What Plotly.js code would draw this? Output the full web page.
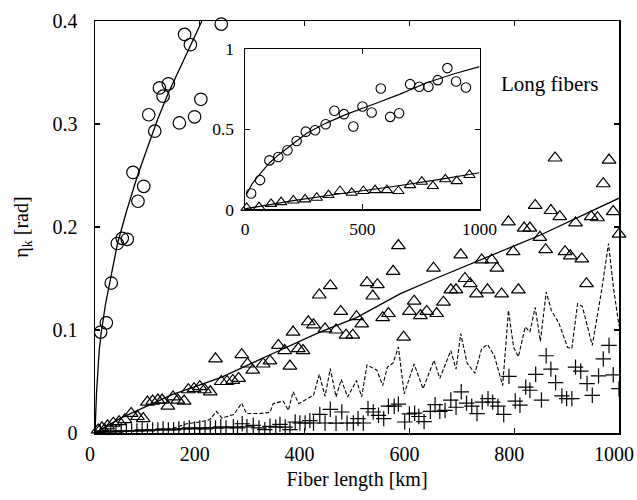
<!DOCTYPE html>
<html>
<head>
<meta charset="utf-8">
<script src="https://cdn.plot.ly/plotly-3.0.1.min.js"></script>
<style>html,body{margin:0;padding:0;background:#fff;}#chart{width:637px;height:500px;}</style>
</head>
<body>
<div id="chart"></div>
<script>
// ---- Main plot: short fibers (circles) ----
var shortLen = [10.8, 21.6, 31, 42.6, 52, 61.6, 72.5, 82, 93, 102.5, 114, 123, 130, 140, 161, 171, 182, 190, 202, 241];
var shortEta = [0.098, 0.107, 0.1456, 0.184, 0.189, 0.188, 0.253, 0.225, 0.2395, 0.309, 0.293, 0.335, 0.327, 0.339, 0.301, 0.387, 0.377, 0.307, 0.324, 0.397];
var shortFitLen = [0, 3, 8, 12, 20, 30, 43, 60, 80, 100, 120, 140, 160, 180, 204];
var shortFitEta = [0, 0.04, 0.08, 0.098, 0.125, 0.152, 0.184, 0.215, 0.248, 0.277, 0.305, 0.33, 0.352, 0.374, 0.4];

// ---- Main plot: triangles ----
var triLen = [6,13,24,35,46,57,69,81,92,100,110,120,128,139,149,158,170,178,189,200,209,220,230,241,252,263,274,280,291,301,321,334,350,362,372,378,388,397,407,417,428,439,449,460,469,479,492,499,509,519,530,539,549,560,569,579,589,600,609,621,633,646,652,665,679,689,698,706,716,728,738,749,757,767,776,789,798,808,819,830,840,849,860,870,878,887,897,907,917,929,938,947,959,970,981,989,1000];
var triEta = [0.003,0.005,0.007,0.0095,0.011,0.013,0.019,0.016,0.014,0.030,0.031,0.032,0.032,0.026,0.035,0.032,0.031,0.042,0.043,0.045,0.042,0.040,0.072,0.050,0.050,0.051,0.053,0.076,0.067,0.061,0.067,0.070,0.085,0.080,0.065,0.098,0.082,0.080,0.108,0.105,0.134,0.101,0.143,0.100,0.118,0.095,0.095,0.113,0.106,0.146,0.133,0.144,0.112,0.116,0.157,0.182,0.093,0.118,0.128,0.114,0.118,0.160,0.116,0.127,0.139,0.139,0.173,0.150,0.145,0.135,0.168,0.139,0.168,0.160,0.135,0.205,0.176,0.139,0.199,0.199,0.221,0.190,0.178,0.216,0.267,0.210,0.176,0.172,0.204,0.169,0.145,0.210,0.209,0.242,0.265,0.215,0.193];
var triFitLen = [0, 47, 146, 241, 330, 429, 499, 582, 650, 735, 849, 1000];
var triFitEta = [0, 0.014, 0.037, 0.054, 0.075, 0.098, 0.112, 0.135, 0.150, 0.168, 0.192, 0.228];

// ---- Main plot: dashed curve ----
var dashLen = [0,20,50,82,120,146,175,200,219,232,242,265,280,289,315,334,340,359,369,378,389,417,428,439,449,460,470,482,499,509,519,538,549,558,569,579,590,609,626,647,658,679,689,698,710,725,738,749,762,778,789,799,808,821,830,840,850,861,871,885,902,910,921,930,949,967,980,990,1000];
var dashEta = [0,0.001,0.001,0.0026,0.003,0.004,0.009,0.0107,0.013,0.021,0.0145,0.018,0.029,0.019,0.019,0.020,0.0285,0.031,0.022,0.040,0.0285,0.0366,0.057,0.0355,0.0625,0.035,0.052,0.035,0.051,0.035,0.066,0.061,0.046,0.064,0.068,0.0835,0.038,0.067,0.043,0.0706,0.053,0.080,0.062,0.0965,0.068,0.058,0.082,0.086,0.075,0.046,0.119,0.083,0.074,0.103,0.098,0.122,0.089,0.137,0.119,0.107,0.083,0.082,0.1256,0.123,0.085,0.139,0.184,0.139,0.104];

// ---- Main plot: plus markers ----
var plusLen = [10,20,30,40,50,60,70,80,90,100,110,120,130,140,150,160,170,180,190,200,210,220,230,240,250,264,272,281,290,302,313,324,334,345,353,363,372,382,391,401,410,417,429,439,449,460,471,481,493,502,512,521,531,541,551,560,571,579,591,600,610,618,628,640,649,658,668,679,689,699,709,719,729,739,750,759,769,780,790,802,811,822,830,841,852,861,870,879,891,900,910,917,927,939,949,961,970,981,989,1000];
var plusEta = [0.001,0.001,0.002,0.001,0.002,0.002,0.002,0.002,0.003,0.002,0.003,0.003,0.004,0.003,0.003,0.004,0.004,0.005,0.004,0.005,0.004,0.005,0.005,0.006,0.005,0.006,0.005,0.009,0.006,0.0075,0.005,0.0033,0.0065,0.0058,0.0084,0.0058,0.0033,0.0107,0.0097,0.0097,0.012,0.0097,0.018,0.0097,0.023,0.0095,0.0204,0.0097,0.0097,0.014,0.0097,0.0237,0.0204,0.0172,0.014,0.026,0.026,0.028,0.0107,0.0185,0.0192,0.016,0.011,0.021,0.0275,0.021,0.022,0.032,0.025,0.040,0.029,0.026,0.0188,0.030,0.0334,0.030,0.026,0.018,0.055,0.031,0.027,0.0445,0.0415,0.057,0.032,0.075,0.062,0.049,0.036,0.0334,0.0334,0.064,0.060,0.048,0.0366,0.0555,0.072,0.085,0.0565,0.043];

// ---- Inset: long fibers ----
var inCircLen = [26,64,104,142,181,220,259,299,344,381,422,462,501,540,579,619,657,704,743,782,822,863,900,942];
var inCircEta = [0.10,0.183,0.306,0.327,0.369,0.427,0.485,0.494,0.531,0.615,0.594,0.517,0.642,0.604,0.754,0.577,0.600,0.781,0.765,0.765,0.806,0.881,0.798,0.760];
var inCircFitLen = [5,15,30,64,104,142,181,263,348,434,548,661,775,889,1000];
var inCircFitEta = [0.09,0.12,0.16,0.222,0.29,0.34,0.385,0.475,0.54,0.594,0.656,0.719,0.79,0.844,0.89];
var inTriLen = [7,60,111,154,206,256,306,356,405,455,505,555,605,654,704,754,801,854,903,957];
var inTriEta = [0.010,0.015,0.035,0.046,0.056,0.063,0.073,0.090,0.115,0.104,0.115,0.121,0.121,0.115,0.152,0.173,0.146,0.188,0.177,0.215];
var inTriFitLen = [0,192,405,619,832,1000];
var inTriFitEta = [0.004,0.052,0.098,0.140,0.188,0.229];

// ---- Ticks / labels ----
var mainXTicks = [0,200,400,600,800,1000];
var mainYTicks = [0,0.1,0.2,0.3,0.4];
var mainYText = ['0','0.1','0.2','0.3','0.4'];
var inXTicks = [0,500,1000];
var inYTicks = [0,0.5,1];
var inYText = ['0','0.5','1'];
var xTitle = 'Fiber length [km]';
var yTitle = 'η<sub>k</sub> [rad]';
var insetLabel = 'Long fibers';

var FONT = 'Liberation Serif';
var K = 'black';
function f(sz) { return {family: FONT, size: sz, color: K}; }

var traces = [
  {x: shortLen, y: shortEta, mode:'markers', type:'scatter', cliponaxis:false,
   marker:{symbol:'circle-open', size:12.5, color:K, line:{width:1.2, color:K}}},
  {x: shortFitLen, y: shortFitEta, mode:'lines', type:'scatter', line:{color:K, width:1.3}},
  {x: dashLen, y: dashEta, mode:'lines', type:'scatter', line:{color:K, width:1.1, dash:'4px,2px'}},
  {x: plusLen, y: plusEta, mode:'markers', type:'scatter',
   marker:{symbol:'cross-thin-open', size:11, color:K, line:{width:1.2, color:K}}},
  {x: triLen, y: triEta, mode:'markers', type:'scatter', cliponaxis:false,
   marker:{symbol:'triangle-up-open', size:12, color:K, line:{width:1.2, color:K}}},
  {x: triFitLen, y: triFitEta, mode:'lines', type:'scatter', line:{color:K, width:1.3}},
  // inset
  {x: inCircLen, y: inCircEta, xaxis:'x2', yaxis:'y2', mode:'markers', type:'scatter', cliponaxis:false,
   marker:{symbol:'circle-open', size:9.5, color:K, line:{width:1.1, color:K}}},
  {x: inCircFitLen, y: inCircFitEta, xaxis:'x2', yaxis:'y2', mode:'lines', type:'scatter', line:{color:K, width:1.2}},
  {x: inTriLen, y: inTriEta, xaxis:'x2', yaxis:'y2', mode:'markers', type:'scatter', cliponaxis:false,
   marker:{symbol:'triangle-up-open', size:10, color:K, line:{width:1.1, color:K}}},
  {x: inTriFitLen, y: inTriFitEta, xaxis:'x2', yaxis:'y2', mode:'lines', type:'scatter', line:{color:K, width:1.2}}
];

var axBase = {showgrid:false, zeroline:false, showline:true, linecolor:K, linewidth:1.5,
  ticks:'inside', ticklen:5, tickwidth:1.2, tickcolor:K, mirror:'ticks'};

var layout = {
  width:637, height:500,
  margin:{l:95, r:18, t:21, b:67, pad:0},
  paper_bgcolor:'#fff', plot_bgcolor:'#fff',
  showlegend:false,
  xaxis: Object.assign({}, axBase, {domain:[0,1], range:[0,1000], tickmode:'array', tickvals:mainXTicks,
    ticklabelstandoff:2, ticklabelshift:-5, ticklabeloverflow:'allow', tickfont:f(20),
    title:{text:xTitle, font:f(20), standoff:8}}),
  yaxis: Object.assign({}, axBase, {domain:[0,1], range:[0,0.4], tickmode:'array', tickvals:mainYTicks, ticktext:mainYText,
    ticklabelstandoff:12, tickfont:f(20),
    title:{text:yTitle, font:f(20), standoff:18}}),
  xaxis2: Object.assign({}, axBase, {anchor:'y2', domain:[0.2863,0.7338], range:[0,1000], tickmode:'array', tickvals:inXTicks,
    ticklabelstandoff:3, tickfont:f(17.5)}),
  yaxis2: Object.assign({}, axBase, {anchor:'x2', domain:[0.5425,0.932], range:[0,1], tickmode:'array', tickvals:inYTicks, ticktext:inYText,
    ticklabelstandoff:6, tickfont:f(17.5)}),
  annotations:[{text:insetLabel, xref:'paper', yref:'paper', x:0.867, y:0.847, xanchor:'center', yanchor:'middle',
    showarrow:false, font:f(21)}]
};

Plotly.newPlot('chart', traces, layout, {displayModeBar:false, staticPlot:true});
</script>
</body>
</html>
